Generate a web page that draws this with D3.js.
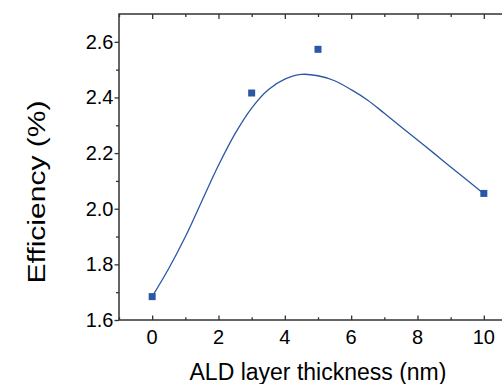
<!DOCTYPE html>
<html>
<head>
<meta charset="utf-8">
<script src="https://cdn.jsdelivr.net/npm/d3@7"></script>
<style>
  body { margin: 0; background: #fff; }
  svg { display: block; font-family: "Liberation Sans", Arial, sans-serif; }
</style>
</head>
<body>
<div id="chart"></div>
<script>
// measured points
var thickness = [0, 3, 5, 10];
var efficiency = [1.684, 2.416, 2.573, 2.055];

// fitted curve
var fitX = [0, 0.5, 1, 1.5, 2, 2.5, 3, 3.5, 4, 4.5, 5, 5.5, 6, 6.5, 7, 7.5, 8, 8.5, 9, 9.5, 10];
var fitY = [1.684, 1.785, 1.899, 2.028, 2.156, 2.27, 2.362, 2.428, 2.466, 2.483, 2.478, 2.46, 2.428, 2.39, 2.343, 2.295, 2.247, 2.199, 2.15, 2.102, 2.054];

var xMajor = [0, 2, 4, 6, 8, 10];
var xMinor = [-1, 1, 3, 5, 7, 9];
var yMajor = [1.6, 1.8, 2.0, 2.2, 2.4, 2.6];
var yMinor = [1.7, 1.9, 2.1, 2.3, 2.5];

var width = 502, height = 384;
// note: "top" is a reserved window prop, so use plot* names
var plotLeft = 119, plotTop = 14, plotBottom = 320, plotRight = 517;
var blue = "#2a58a6", axisColor = "#333";

var svg = d3.select("#chart").append("svg")
  .attr("width", width)
  .attr("height", height);

var x = d3.scaleLinear().domain([-1, 11]).range([plotLeft, plotRight]);
var y = d3.scaleLinear().domain([1.6, 2.7]).range([plotBottom, plotTop]);

function noText(g) {
  g.select(".domain").remove();
  g.selectAll("text").remove();
  g.selectAll("line").attr("stroke", axisColor).attr("stroke-width", 1.3);
}

// bottom axis, ticks point up into the plot
svg.append("g")
  .attr("transform", "translate(0," + plotBottom + ")")
  .call(d3.axisTop(x).tickValues(xMajor).tickSize(4.5))
  .call(noText);
svg.append("g")
  .attr("transform", "translate(0," + plotBottom + ")")
  .call(d3.axisTop(x).tickValues(xMinor).tickSize(2.7))
  .call(noText);
// top axis mirrors it
svg.append("g")
  .attr("transform", "translate(0," + plotTop + ")")
  .call(d3.axisBottom(x).tickValues(xMajor).tickSize(5))
  .call(noText);
svg.append("g")
  .attr("transform", "translate(0," + plotTop + ")")
  .call(d3.axisBottom(x).tickValues(xMinor).tickSize(3))
  .call(noText);
// left axis, ticks point out
svg.append("g")
  .attr("transform", "translate(" + plotLeft + ",0)")
  .call(d3.axisLeft(y).tickValues(yMajor).tickSize(4.5))
  .call(noText);
svg.append("g")
  .attr("transform", "translate(" + plotLeft + ",0)")
  .call(d3.axisLeft(y).tickValues(yMinor).tickSize(3))
  .call(noText);

// frame
svg.append("rect")
  .attr("x", plotLeft).attr("y", plotTop)
  .attr("width", plotRight - plotLeft).attr("height", plotBottom - plotTop)
  .attr("fill", "none")
  .attr("stroke", axisColor)
  .attr("stroke-width", 1.5);

// tick labels
svg.append("g").selectAll("text")
  .data(xMajor)
  .enter().append("text")
  .attr("x", function(d) { return x(d); })
  .attr("y", 344)
  .attr("text-anchor", "middle")
  .attr("font-size", "20px")
  .attr("fill", "#000")
  .text(function(d) { return d; });

svg.append("g").selectAll("text")
  .data(yMajor)
  .enter().append("text")
  .attr("x", 113.5)
  .attr("y", function(d) { return y(d); })
  .attr("dy", "0.35em")
  .attr("text-anchor", "end")
  .attr("font-size", "20px")
  .attr("fill", "#000")
  .text(function(d) { return d3.format(".1f")(d); });

// axis titles
svg.append("text")
  .attr("x", (plotLeft + plotRight) / 2)
  .attr("y", 380)
  .attr("text-anchor", "middle")
  .attr("font-size", "23px")
  .attr("fill", "#000")
  .text("ALD layer thickness (nm)");

svg.append("text")
  .attr("transform", "translate(44.5,192) rotate(-90)")
  .attr("text-anchor", "middle")
  .attr("font-size", "23px")
  .attr("textLength", 183)
  .attr("lengthAdjust", "spacingAndGlyphs")
  .attr("fill", "#000")
  .text("Efficiency (%)");

// fit curve
var line = d3.line()
  .x(function(d, i) { return x(fitX[i]); })
  .y(function(d) { return y(d); })
  .curve(d3.curveCatmullRom);

svg.append("path")
  .datum(fitY)
  .attr("d", line)
  .attr("fill", "none")
  .attr("stroke", blue)
  .attr("stroke-width", 1.3);

// markers
svg.append("g").selectAll("rect")
  .data(efficiency)
  .enter().append("rect")
  .attr("x", function(d, i) { return x(thickness[i]) - 3.5; })
  .attr("y", function(d) { return y(d) - 3.5; })
  .attr("width", 7)
  .attr("height", 7)
  .attr("fill", blue);
</script>
</body>
</html>
